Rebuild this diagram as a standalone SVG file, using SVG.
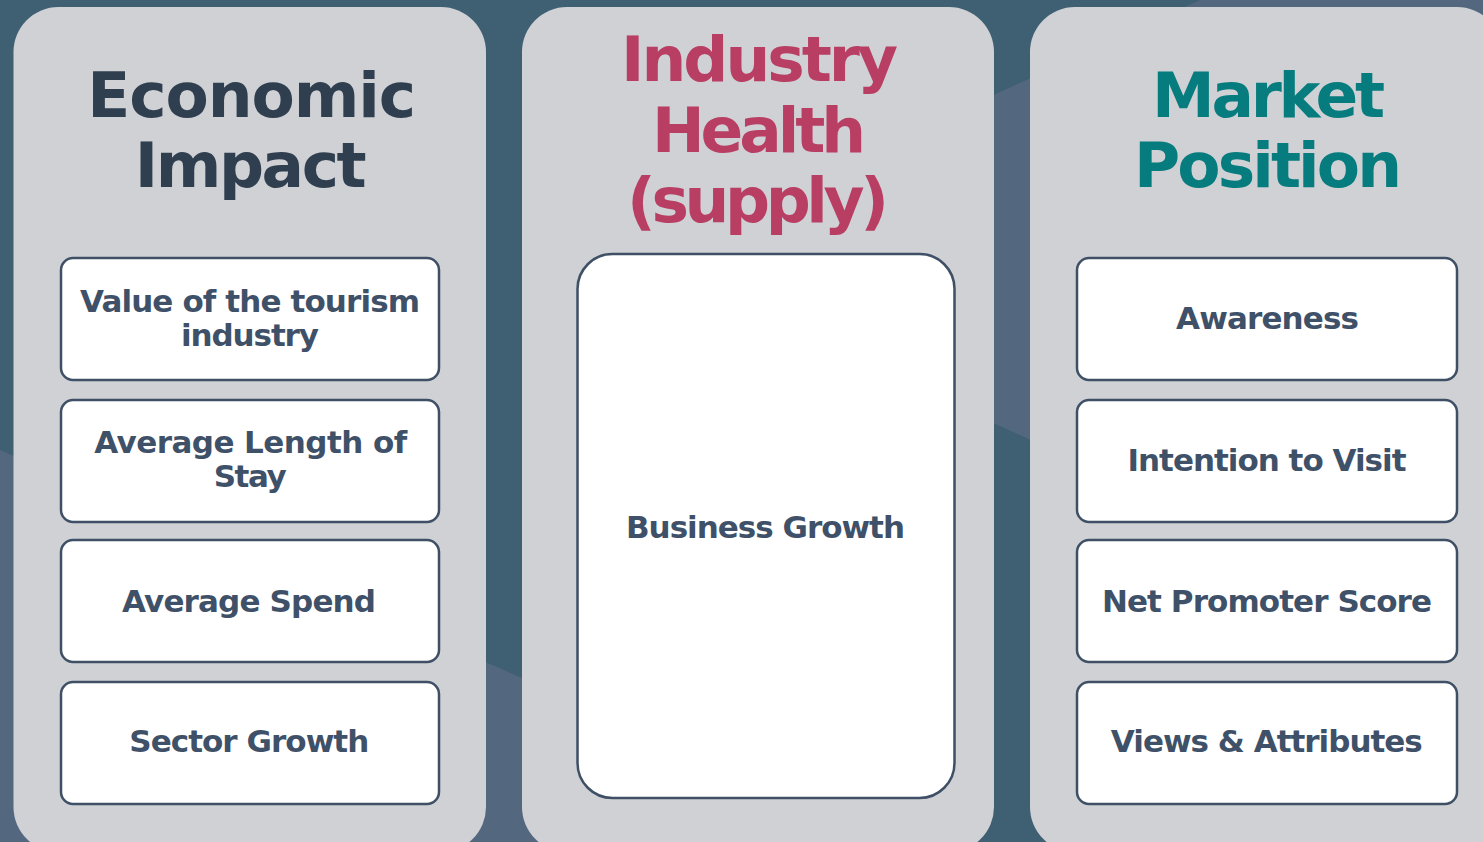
<svg xmlns="http://www.w3.org/2000/svg" width="1483" height="842" viewBox="0 0 1483 842">
<style>
.panel{fill:#d0d1d5}
.box{fill:#ffffff;stroke:#3e4f66;stroke-width:2.5}
.h{font-family:"DejaVu Sans",sans-serif;font-weight:700;font-size:63px;text-anchor:middle}
.t{font-family:"DejaVu Sans",sans-serif;font-weight:700;font-size:31px;text-anchor:middle;fill:#3f5168}
</style>
<rect x="0" y="0" width="1483" height="842" fill="#3f5f73"/>
<polygon points="0,450 950,865 0,865" fill="#53687e"/>
<polygon points="637,259 1200,0 1483,0 1483,648" fill="#53687e"/>
<g id="panel-economic">
<rect class="panel" x="13.5" y="7" width="472.5" height="845" rx="45"/>
<text class="h" fill="#2f3f50" x="251.7" y="117" textLength="329">Economic</text>
<text class="h" fill="#2f3f50" x="250.7" y="187" textLength="232">Impact</text>
</g>
<g id="panel-industry">
<rect class="panel" x="522" y="7" width="472" height="845" rx="45"/>
<text class="h" fill="#b83f63" x="759.5" y="81" textLength="277">Industry</text>
<text class="h" fill="#b83f63" x="759" y="152" textLength="214">Health</text>
<text class="h" fill="#b83f63" x="758" y="222" textLength="262">(supply)</text>
</g>
<g id="panel-market">
<rect class="panel" x="1030" y="7" width="472" height="845" rx="45"/>
<text class="h" fill="#077c7e" x="1268.5" y="117" textLength="233">Market</text>
<text class="h" fill="#077c7e" x="1268" y="187" textLength="268">Position</text>
</g>
<g id="node-value">
<rect class="box" x="61" y="258" width="378" height="122" rx="12"/>
<text class="t" x="250" y="311.7" textLength="340">Value of the tourism</text>
<text class="t" x="250" y="346" textLength="138">industry</text>
</g>
<g id="node-length">
<rect class="box" x="61" y="400" width="378" height="122" rx="12"/>
<text class="t" x="250.7" y="453" textLength="313">Average Length of</text>
<text class="t" x="250.2" y="487" textLength="73">Stay</text>
</g>
<g id="node-spend">
<rect class="box" x="61" y="540" width="378" height="122" rx="12"/>
<text class="t" x="249" y="612" textLength="254">Average Spend</text>
</g>
<g id="node-sector">
<rect class="box" x="61" y="682" width="378" height="122" rx="12"/>
<text class="t" x="249.3" y="752" textLength="240">Sector Growth</text>
</g>
<g id="node-business">
<rect class="box" x="577.5" y="254" width="377" height="544" rx="35"/>
<text class="t" x="765.5" y="537.7" textLength="279">Business Growth</text>
</g>
<g id="node-awareness">
<rect class="box" x="1077" y="258" width="380" height="122" rx="12"/>
<text class="t" x="1267.5" y="329" textLength="183">Awareness</text>
</g>
<g id="node-intention">
<rect class="box" x="1077" y="400" width="380" height="122" rx="12"/>
<text class="t" x="1267" y="471" textLength="279">Intention to Visit</text>
</g>
<g id="node-nps">
<rect class="box" x="1077" y="540" width="380" height="122" rx="12"/>
<text class="t" x="1267" y="612" textLength="330">Net Promoter Score</text>
</g>
<g id="node-views">
<rect class="box" x="1077" y="682" width="380" height="122" rx="12"/>
<text class="t" x="1266.8" y="752" textLength="312">Views &amp; Attributes</text>
</g>
<g id="connectors"></g>
</svg>
